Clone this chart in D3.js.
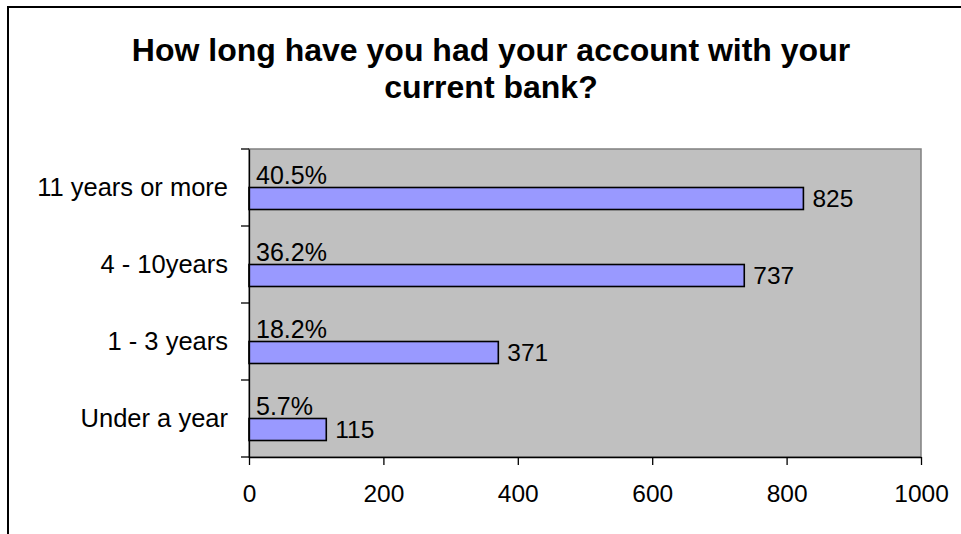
<!DOCTYPE html>
<html lang="en">
<head>
  <meta charset="UTF-8">
  <title>Account length</title>
  <script src="https://d3js.org/d3.v7.min.js"></script>
  <style>
    body { margin: 0; background: #fff; }
    svg { display: block; font-family: "Liberation Sans", Arial, sans-serif; }
  </style>
</head>
<body>
  <div id="chart"></div>
  <script>
    // data, top row first
    const categories = ["11 years or more", "4 - 10years", "1 - 3 years", "Under a year"];
    const counts = [825, 737, 371, 115];
    const percents = ["40.5%", "36.2%", "18.2%", "5.7%"];
    const xTicks = [0, 200, 400, 600, 800, 1000];
    const titleLines = ["How long have you had your account with your", "current bank?"];

    const data = categories.map((c, i) => ({ cat: c, count: counts[i], pct: percents[i] }));

    const width = 961, height = 534;
    const plot = { left: 249, right: 921, top: 149, bottom: 457 };

    const svg = d3.select("#chart").append("svg")
      .attr("width", width)
      .attr("height", height);

    // outer chart frame (runs off the right and bottom edge)
    svg.append("rect")
      .attr("x", 8).attr("y", 7)
      .attr("width", 1000).attr("height", 600)
      .attr("fill", "none")
      .attr("stroke", "#000")
      .attr("stroke-width", 2);

    svg.append("text")
      .attr("text-anchor", "middle")
      .attr("font-weight", "bold")
      .attr("font-size", "32px")
      .selectAll("tspan")
      .data(titleLines)
      .enter()
      .append("tspan")
      .attr("x", 491)
      .attr("y", (d, i) => 61 + i * 37)
      .text(d => d);

    const x = d3.scaleLinear()
      .domain([0, 1000])
      .range([plot.left, plot.right]);

    const y = d3.scaleBand()
      .domain(categories)
      .range([plot.top, plot.bottom]);

    // two slots per category: hidden percent series on top, counts below
    const slot = d3.scaleBand()
      .domain(["pct", "count"])
      .range([0, y.bandwidth()])
      .paddingOuter(0.75)
      .paddingInner(0);

    svg.append("rect")
      .attr("x", plot.left).attr("y", plot.top)
      .attr("width", plot.right - plot.left)
      .attr("height", plot.bottom - plot.top)
      .attr("fill", "#c0c0c0")
      .attr("stroke", "#808080")
      .attr("stroke-width", 1.5);

    svg.selectAll(".bar")
      .data(data)
      .enter()
      .append("rect")
      .attr("class", "bar")
      .attr("x", x(0))
      .attr("y", d => y(d.cat) + slot("count"))
      .attr("width", d => x(d.count) - x(0))
      .attr("height", slot.bandwidth())
      .attr("fill", "#9999ff")
      .attr("stroke", "#000")
      .attr("stroke-width", 1.6);

    svg.selectAll(".pct")
      .data(data)
      .enter()
      .append("text")
      .attr("x", x(0) + 7)
      .attr("y", d => y(d.cat) + slot("count") - 4)
      .attr("font-size", "25px")
      .text(d => d.pct);

    svg.selectAll(".val")
      .data(data)
      .enter()
      .append("text")
      .attr("x", d => x(d.count) + 9)
      .attr("y", d => y(d.cat) + slot("count") + slot.bandwidth() / 2)
      .attr("dy", "0.36em")
      .attr("font-size", "24.5px")
      .text(d => d.count);

    // x axis
    const xAxis = svg.append("g")
      .attr("transform", `translate(0, ${plot.bottom})`)
      .call(d3.axisBottom(x).tickValues(xTicks).tickFormat(d3.format("d"))
        .tickSize(8).tickPadding(20).tickSizeOuter(0));
    xAxis.selectAll("text").attr("font-size", "24.5px").attr("fill", "#000").attr("font-family", null);
    xAxis.selectAll("line, path").attr("stroke", "#000").attr("stroke-width", 1.3);

    // y axis with ticks between categories
    const yAxis = svg.append("g")
      .attr("transform", `translate(${plot.left}, 0)`)
      .call(d3.axisLeft(y).tickSize(0).tickPadding(21));
    yAxis.selectAll("text").attr("font-size", "25.5px").attr("fill", "#000").attr("font-family", null);
    yAxis.select(".domain").attr("stroke", "#000").attr("stroke-width", 1.3);

    const bounds = categories.map(c => y(c)).concat([plot.bottom]);
    svg.selectAll(".ytick")
      .data(bounds)
      .enter()
      .append("line")
      .attr("x1", plot.left - 8).attr("x2", plot.left)
      .attr("y1", d => d).attr("y2", d => d)
      .attr("stroke", "#000")
      .attr("stroke-width", 1.3);
  </script>
</body>
</html>
